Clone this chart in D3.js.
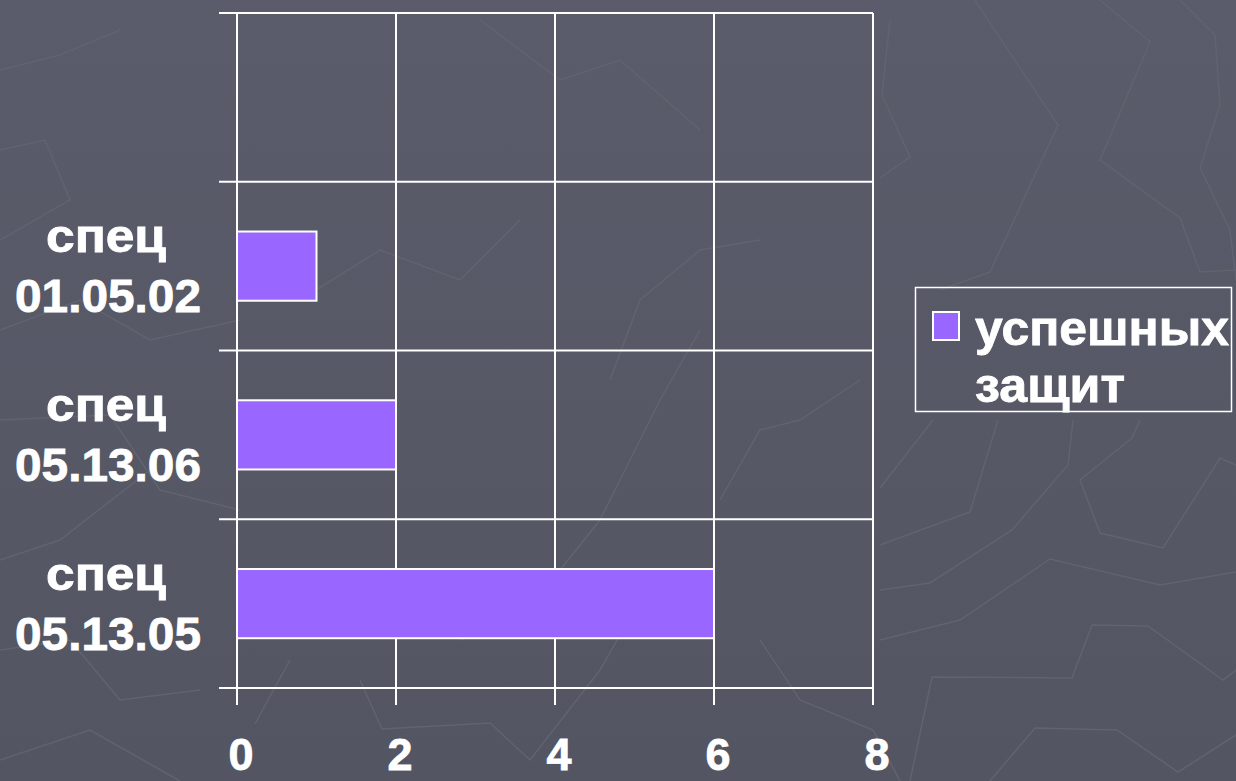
<!DOCTYPE html>
<html>
<head>
<meta charset="utf-8">
<script src="https://cdn.jsdelivr.net/npm/d3@7"></script>
<style>
  html, body { margin: 0; padding: 0; background: #575968; }
  svg { display: block; }
  text { font-family: "Liberation Sans", Arial, sans-serif; font-weight: bold; fill: #fff; }
</style>
</head>
<body>
<svg id="chart"></svg>
<script>
const width = 1236;
const height = 781;
const margin = {top: 13, right: 363, bottom: 93, left: 237};

// Categories top to bottom (first one is an empty slot, as in the original)
const categories = ['', 'спец 01.05.02', 'спец 05.13.06', 'спец 05.13.05'];
const values = [null, 1, 2, 6];
const xTicks = [0, 2, 4, 6, 8];
const seriesName = ['успешных', 'защит'];

const barColor = '#9966ff';

const svg = d3.select("#chart")
    .attr("width", width)
    .attr("height", height);

// Background with a faint polyline texture
const defs = svg.append("defs");
const grad = defs.append("linearGradient")
    .attr("id", "bg")
    .attr("x1", 0).attr("y1", 0).attr("x2", 0).attr("y2", 1);
grad.append("stop").attr("offset", "0%").attr("stop-color", "#5a5c6b");
grad.append("stop").attr("offset", "100%").attr("stop-color", "#535562");

svg.append("rect")
    .attr("width", width)
    .attr("height", height)
    .attr("fill", "url(#bg)");

const texture = [
    [[1180, 0], [1215, 35], [1220, 105], [1200, 168], [1230, 230], [1236, 280]],
    [[1100, 0], [1150, 42], [1100, 160], [1180, 218], [1200, 272], [1236, 270]],
    [[975, 0], [1058, 125], [990, 272], [940, 290]],
    [[890, 20], [882, 95], [910, 157], [880, 178]],
    [[933, 420], [880, 488]],
    [[998, 420], [970, 512], [880, 545]],
    [[1073, 420], [1068, 465], [1012, 530], [930, 583], [880, 590]],
    [[1140, 420], [1132, 438], [1080, 480], [1100, 533], [1163, 548], [1220, 458], [1236, 465]],
    [[880, 640], [960, 620], [1050, 559], [1160, 585], [1236, 572]],
    [[1236, 670], [1223, 680], [1148, 626], [1092, 625], [1072, 678], [932, 677], [910, 781]],
    [[990, 781], [1035, 728], [1117, 730], [1178, 772], [1236, 735]],
    [[0, 70], [60, 55], [120, 30]],
    [[0, 150], [45, 140], [70, 200], [0, 240]],
    [[0, 330], [80, 300], [150, 340], [240, 320]],
    [[0, 420], [110, 415], [160, 490], [240, 510]],
    [[0, 560], [60, 540], [150, 470]],
    [[0, 650], [70, 640], [120, 700], [200, 690]],
    [[0, 760], [90, 730], [180, 781]],
    [[255, 724], [268, 700], [290, 660]],
    [[360, 680], [382, 729], [490, 723], [530, 760], [600, 670], [640, 600]],
    [[460, 640], [520, 620], [600, 520], [660, 400], [700, 330]],
    [[610, 380], [640, 300], [700, 250], [760, 240]],
    [[720, 500], [760, 430], [800, 420], [860, 380]],
    [[480, 20], [560, 80], [620, 60], [700, 130]],
    [[300, 300], [380, 250], [460, 280], [520, 220]],
    [[760, 640], [800, 700], [873, 730], [900, 781]]
];

svg.append("g")
    .selectAll("path")
    .data(texture)
    .join("path")
    .attr("d", d3.line())
    .attr("fill", "none")
    .attr("stroke", "#61636f")
    .attr("stroke-width", 1.5);

const x = d3.scaleLinear()
    .domain([xTicks[0], xTicks[xTicks.length - 1]])
    .range([margin.left, width - margin.right]);

const y = d3.scaleBand()
    .domain(categories)
    .range([margin.top, height - margin.bottom])
    .padding(0);

// Vertical gridlines + tick marks below the axis
svg.append("g")
    .selectAll("line")
    .data(xTicks)
    .join("line")
    .attr("x1", d => x(d))
    .attr("x2", d => x(d))
    .attr("y1", margin.top)
    .attr("y2", height - margin.bottom + 17)
    .attr("stroke", "#fff")
    .attr("stroke-width", 2);

// Horizontal band boundaries + tick marks left of the axis
const bounds = categories.map(c => y(c)).concat([y.range()[1]]);
svg.append("g")
    .selectAll("line")
    .data(bounds)
    .join("line")
    .attr("x1", margin.left - 18)
    .attr("x2", x.range()[1])
    .attr("y1", d => d)
    .attr("y2", d => d)
    .attr("stroke", "#fff")
    .attr("stroke-width", 2);

// Bars
const barH = y.bandwidth() * 0.41;
svg.append("g")
    .selectAll("rect")
    .data(categories.map((c, i) => ({c, v: values[i]})).filter(d => d.v != null))
    .join("rect")
    .attr("x", x(0))
    .attr("y", d => y(d.c) + (y.bandwidth() - barH) / 2)
    .attr("width", d => x(d.v) - x(0))
    .attr("height", barH)
    .attr("fill", barColor)
    .attr("stroke", "#fff")
    .attr("stroke-width", 2);

// Category labels (two lines, centered)
const labels = svg.append("g")
    .selectAll("text")
    .data(categories.filter(c => c))
    .join("text")
    .attr("text-anchor", "middle")
    .style("font-size", "47px")
    .style("stroke", "#fff")
    .style("stroke-width", "0.8px");

labels.each(function(c) {
    const parts = c.split(' ');
    const cy = y(c) + y.bandwidth() / 2;
    const t = d3.select(this);
    t.append("tspan").attr("x", 106).attr("y", cy - 14)
        .attr("textLength", 120).attr("lengthAdjust", "spacingAndGlyphs")
        .text(parts[0]);
    t.append("tspan").attr("x", 108).attr("y", cy + 46)
        .attr("textLength", 186).attr("lengthAdjust", "spacingAndGlyphs")
        .text(parts[1]);
});

// X tick labels
svg.append("g")
    .selectAll("text")
    .data(xTicks)
    .join("text")
    .attr("x", d => x(d) + 4)
    .attr("y", 770)
    .attr("text-anchor", "middle")
    .style("font-size", "45px")
    .style("stroke", "#fff")
    .style("stroke-width", "0.8px")
    .text(d => d);

// Legend
const legend = svg.append("g");
legend.append("rect")
    .attr("x", 915.5).attr("y", 287.5)
    .attr("width", 316).attr("height", 124)
    .attr("fill", "none")
    .attr("stroke", "#fff")
    .attr("stroke-width", 1.5);
legend.append("rect")
    .attr("x", 933).attr("y", 312)
    .attr("width", 26).attr("height", 28)
    .attr("fill", barColor)
    .attr("stroke", "#fff")
    .attr("stroke-width", 2);
legend.append("text")
    .style("font-size", "48px")
    .style("stroke", "#fff")
    .style("stroke-width", "0.8px")
    .selectAll("tspan")
    .data(seriesName)
    .join("tspan")
    .attr("x", 975)
    .attr("y", (d, i) => 345 + i * 57)
    .attr("textLength", (d, i) => i === 0 ? 254 : 150)
    .attr("lengthAdjust", "spacingAndGlyphs")
    .text(d => d);
</script>
</body>
</html>
